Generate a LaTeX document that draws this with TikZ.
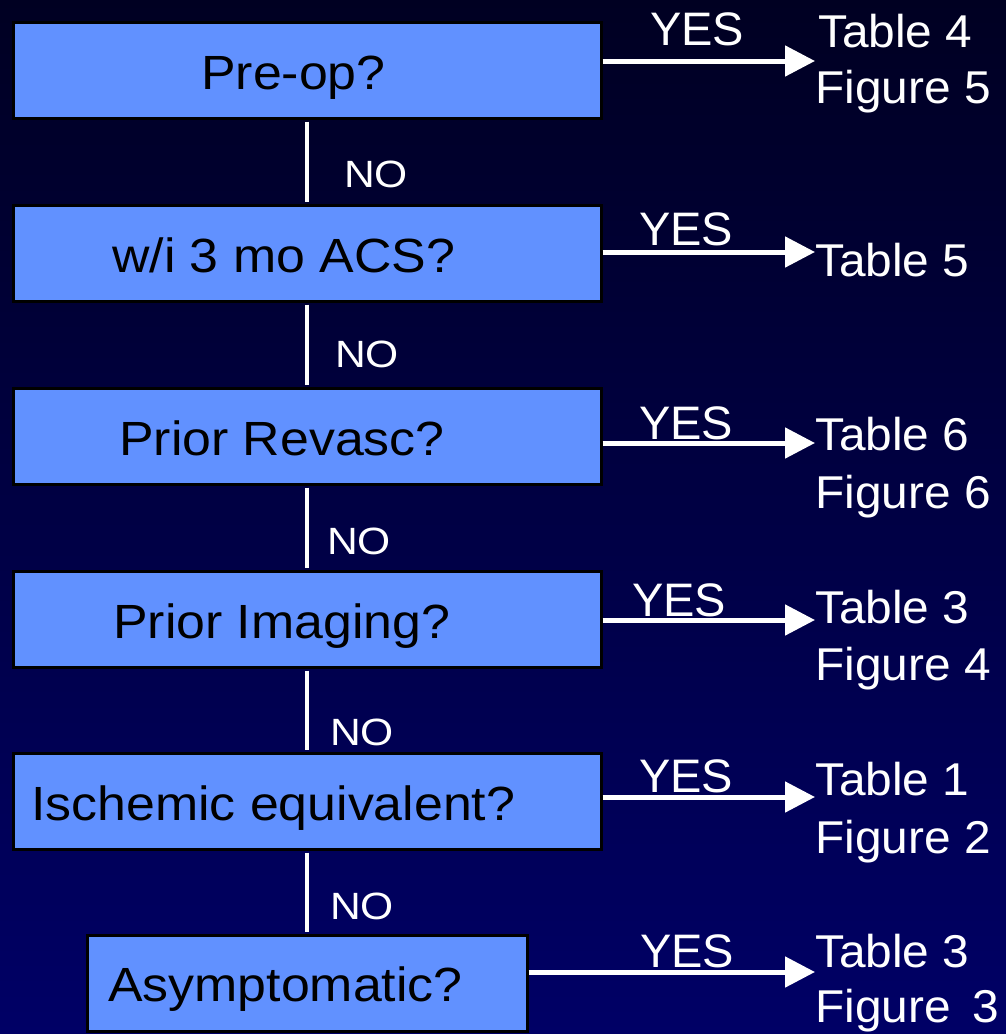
\documentclass[tikz,border=0pt]{standalone}
\usepackage{fontspec}
\setmainfont{Liberation Sans}
\newfontfamily\boxfont[FakeStretch=1.08]{Liberation Sans}
\newfontfamily\nofont[FakeStretch=1.12]{Liberation Sans}
\newfontfamily\reffont[FakeStretch=1.04]{Liberation Sans}
\usetikzlibrary{arrows.meta}
\definecolor{bgtop}{RGB}{0,0,34}
\definecolor{bgbot}{RGB}{0,0,102}
\definecolor{boxblue}{RGB}{97,145,255}
\tikzset{
  qbox/.style={draw=black, line width=3pt, fill=boxblue, rectangle, minimum height=96pt, inner sep=0pt},
  qtext/.style={anchor=base west, inner sep=0pt, text=black, font=\boxfont\fontsize{48}{56}\selectfont},
  notext/.style={anchor=base west, inner sep=0pt, text=white, font=\nofont\fontsize{38}{44}\selectfont},
  yestext/.style={anchor=base west, inner sep=0pt, text=white, font=\fontsize{47}{56}\selectfont},
  reftext/.style={anchor=base west, inner sep=0pt, text=white, font=\reffont\fontsize{46}{55}\selectfont},
  noline/.style={draw=white, line width=4pt, shorten <=2pt, shorten >=2pt},
  yesarrow/.style={draw=white, line width=5pt, -{Triangle[length=30pt,width=30pt]}}
}
\begin{document}
\begin{tikzpicture}[x=1pt,y=-1pt]
\shade[top color=bgtop, bottom color=bgbot] (0,0) rectangle (1006,1034);
\useasboundingbox (0,0) rectangle (1006,1034);
% boxes
\node[qbox, minimum width=588pt] (b1) at (307,70) {};
\node[qbox, minimum width=588pt] (b2) at (307,253) {};
\node[qbox, minimum width=588pt] (b3) at (307,436) {};
\node[qbox, minimum width=588pt] (b4) at (307,619) {};
\node[qbox, minimum width=588pt] (b5) at (307,801) {};
\node[qbox, minimum width=440pt] (b6) at (307,983) {};
% box texts
\node[qtext] (t1) at (201,89) {Pre-op?};
\node[qtext] (t2) at (112,272) {w/i 3 mo ACS?};
\node[qtext] (t3) at (119,455) {Prior Revasc?};
\node[qtext] (t4) at (113,638) {Prior Imaging?};
\node[qtext] (t5) at (31,820) {Ischemic equivalent?};
\node[qtext] (t6) at (108,1001) {Asymptomatic?};
% NO connectors
\draw[noline] (b1.south) -- (b2.north);
\draw[noline] (b2.south) -- (b3.north);
\draw[noline] (b3.south) -- (b4.north);
\draw[noline] (b4.south) -- (b5.north);
\draw[noline] (b5.south) -- (b6.north);
\node[notext] (n1) at (344,187) {NO};
\node[notext] (n2) at (335,367) {NO};
\node[notext] (n3) at (327,554) {NO};
\node[notext] (n4) at (330,745) {NO};
\node[notext] (n5) at (330,919) {NO};
% YES arrows
\coordinate (e1) at (815,61);
\coordinate (e2) at (815,252);
\coordinate (e3) at (815,443);
\coordinate (e4) at (815,620);
\coordinate (e5) at (815,797);
\coordinate (e6) at (815,972);
\draw[yesarrow] (b1.east |- e1) -- (e1);
\draw[yesarrow] (b2.east |- e2) -- (e2);
\draw[yesarrow] (b3.east |- e3) -- (e3);
\draw[yesarrow] (b4.east |- e4) -- (e4);
\draw[yesarrow] (b5.east |- e5) -- (e5);
\draw[yesarrow] (b6.east |- e6) -- (e6);
\node[yestext] (y1) at (650,45) {YES};
\node[yestext] (y2) at (639,245) {YES};
\node[yestext] (y3) at (639,439) {YES};
\node[yestext] (y4) at (632,616) {YES};
\node[yestext] (y5) at (639,792) {YES};
\node[yestext] (y6) at (640,967) {YES};
% references
\node[reftext] (r1a) at (818,47) {Table 4};
\node[reftext] (r1b) at (815,103) {Figure 5};
\node[reftext] (r2a) at (815,276) {Table 5};
\node[reftext] (r3a) at (815,450) {Table 6};
\node[reftext] (r3b) at (815,508) {Figure 6};
\node[reftext] (r4a) at (815,623) {Table 3};
\node[reftext] (r4b) at (815,680) {Figure 4};
\node[reftext] (r5a) at (815,795) {Table 1};
\node[reftext] (r5b) at (815,853) {Figure 2};
\node[reftext] (r6a) at (815,967) {Table 3};
\node[reftext] (r6b) at (815,1022) {Figure\hspace{0.48em}3};
\end{tikzpicture}
\end{document}
